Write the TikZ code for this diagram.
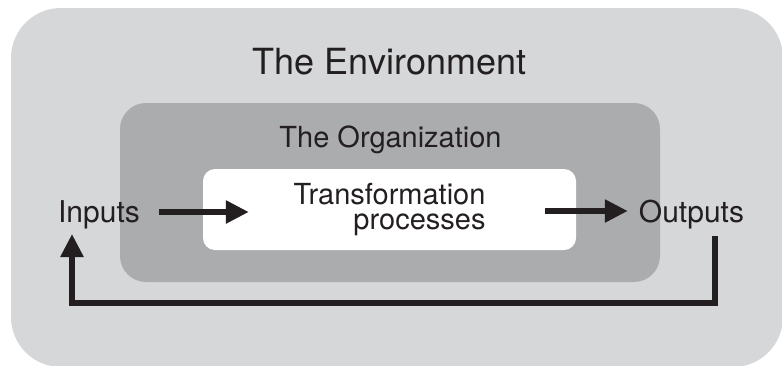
\documentclass[tikz,border=0pt]{standalone}
\usepackage{fontspec}
\setmainfont{TeX Gyre Heros}
\usetikzlibrary{arrows.meta}
\definecolor{envgray}{HTML}{D6D7D9}
\definecolor{orggray}{HTML}{ABACAE}
\definecolor{ink}{HTML}{231F20}
\begin{document}
\begin{tikzpicture}[x=1pt, y=-1pt,
    label/.style={inner sep=0pt, text=ink, anchor=base},
    flow/.style={draw=ink, line width=5.5pt, -{Triangle[length=23pt, width=22pt]}},
    procbox/.style={fill=white, rounded corners=12pt, minimum width=373pt,
        minimum height=81pt, inner sep=0pt, text=ink, align=right,
        font=\fontsize{29}{24}\selectfont}]
    \useasboundingbox (0,0) rectangle (782,365);
    \fill[white] (0,0) rectangle (782,365);

    % environment
    \begin{scope}
        \clip (0,0) rectangle (782,365);
        \fill[envgray, rounded corners=50pt] (11,8) rectangle (783,367);
    \end{scope}
    \node[label, font=\fontsize{36}{40}\selectfont] (env) at (389.5,74) {The Environment};

    % organization
    \fill[orggray, rounded corners=26pt] (120,103) rectangle (660,282);
    \node[label, font=\fontsize{29}{33}\selectfont] (org) at (390.5,147) {The Organization};

    \node[procbox] (proc) at (389.5,209.5) {Transformation\\[1pt]processes};

    \node[label, font=\fontsize{30}{34}\selectfont] (inputs) at (99,222) {Inputs};
    \node[label, font=\fontsize{30}{34}\selectfont] (outputs) at (691.5,222) {Outputs};

    \draw[flow] ([xshift=19pt,yshift=10pt]inputs.base east) -- ([xshift=46pt,yshift=-2.5pt]proc.west);
    \draw[flow] ([xshift=-31pt,yshift=-1.5pt]proc.east) -- ([xshift=-11pt,yshift=11pt]outputs.base west);

    % feedback
    \draw[flow] ([xshift=23.5pt,yshift=-14pt]outputs.base) -- ++(0,67)
        -| ([xshift=-27pt,yshift=-12pt]inputs.base);
\end{tikzpicture}
\end{document}
